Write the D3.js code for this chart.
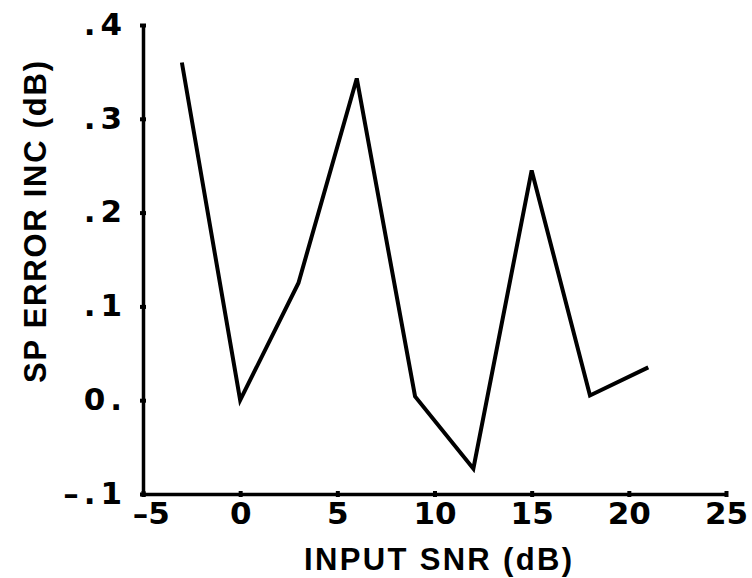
<!DOCTYPE html>
<html>
<head>
<meta charset="utf-8">
<script src="https://cdn.jsdelivr.net/npm/d3@7"></script>
<style>
  body { margin: 0; background: #fff; }
  text { font-family: "DejaVu Sans", sans-serif; font-weight: bold; fill: #000; }
  .title { font-family: "Liberation Sans", Arial, sans-serif; }
</style>
</head>
<body>
<svg width="752" height="578"></svg>
<script>
// Input SNR (dB) and SP error increase (dB)
const snr = [-3, 0, 3, 6, 9, 12, 15, 18, 21];
const errInc = [0.36, 0.0, 0.125, 0.343, 0.004, -0.073, 0.245, 0.005, 0.035];

const xTicks = [-5, 0, 5, 10, 15, 20, 25];
const yTicks = [-0.1, 0, 0.1, 0.2, 0.3, 0.4];
const yTickLabels = ["\u2013.1", "0.", ".1", ".2", ".3", ".4"];

const svg = d3.select("svg");
const margin = { left: 143, right: 26, top: 25, bottom: 84 };
const width = +svg.attr("width"), height = +svg.attr("height");

const x = d3.scaleLinear().domain([-5, 25]).range([margin.left, width - margin.right]);
const y = d3.scaleLinear().domain([-0.1, 0.4]).range([height - margin.bottom, margin.top]);

// x axis
const gx = svg.append("g")
    .attr("transform", `translate(0,${height - margin.bottom})`)
    .call(d3.axisBottom(x).tickValues(xTicks).tickSize(3).tickSizeOuter(0).tickPadding(5)
      .tickFormat(d => d < 0 ? "\u2013" + Math.abs(d) : d));
gx.select(".domain").attr("stroke-width", 3.5);
gx.selectAll(".tick line").attr("stroke-width", 4).attr("y1", -3);
gx.selectAll(".tick text").style("font-size", "31px")
    .attr("dx", d => d < 0 ? "0.25em" : 0);

// y axis
const gy = svg.append("g")
    .attr("transform", `translate(${margin.left},0)`)
    .call(d3.axisLeft(y).tickValues(yTicks).tickSize(3).tickSizeOuter(0).tickPadding(13)
      .tickFormat((d, i) => yTickLabels[i]));
gy.select(".domain").attr("stroke-width", 3.5);
gy.selectAll(".tick line").attr("stroke-width", 4).attr("x1", 3);
gy.selectAll(".tick text").style("font-size", "31px").attr("dy", "0.3em")
    .style("letter-spacing", "5px");

// data line
svg.append("path")
    .datum(snr.map((s, i) => [s, errInc[i]]))
    .attr("fill", "none")
    .attr("stroke", "#000")
    .attr("stroke-width", 4)
    .attr("stroke-linejoin", "miter")
    .attr("d", d3.line().x(d => x(d[0])).y(d => y(d[1])));

// axis titles
svg.append("text")
    .attr("class", "title")
    .attr("x", 438).attr("y", 570)
    .attr("text-anchor", "middle")
    .attr("textLength", 268)
    .attr("lengthAdjust", "spacing")
    .style("font-size", "31px")
    .text("INPUT SNR (dB)");

svg.append("text")
    .attr("class", "title")
    .attr("transform", "translate(46,222) rotate(-90)")
    .attr("text-anchor", "middle")
    .attr("textLength", 322)
    .attr("lengthAdjust", "spacing")
    .style("font-size", "31px")
    .text("SP ERROR INC (dB)");
</script>
</body>
</html>
